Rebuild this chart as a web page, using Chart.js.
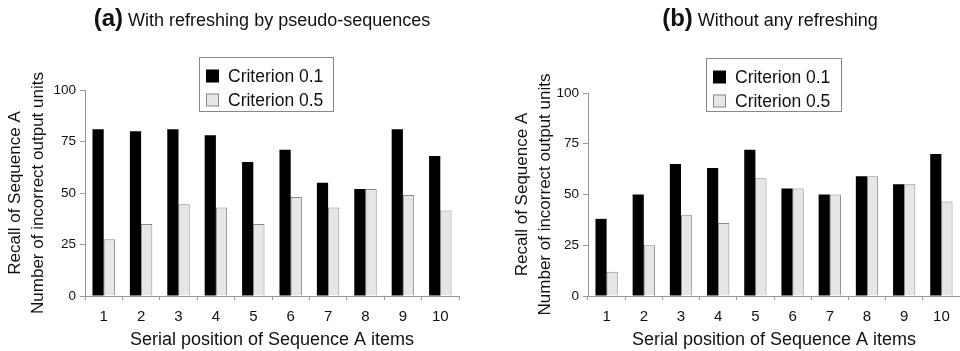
<!DOCTYPE html>
<html>
<head>
<meta charset="utf-8">
<script src="https://cdn.jsdelivr.net/npm/chart.js@4.4.1/dist/chart.umd.min.js"></script>
<style>
  html, body { margin: 0; padding: 0; background: #fff; }
  #wrap { display: flex; width: 960px; height: 351px; }
  .panel { width: 480px; height: 351px; }
</style>
</head>
<body>
<div id="wrap">
  <div class="panel"><canvas id="chartA" width="480" height="351"></canvas></div>
  <div class="panel"><canvas id="chartB" width="480" height="351"></canvas></div>
</div>
<script>
const positions = ['1', '2', '3', '4', '5', '6', '7', '8', '9', '10'];
const seriesNames = ['Criterion 0.1', 'Criterion 0.5'];

// (a) with refreshing by pseudo-sequences
const refreshCrit01 = [81, 80, 81, 78, 65, 71, 55, 52, 81, 68];
const refreshCrit05 = [27.5, 35, 44.5, 43, 35, 48, 43, 52, 49, 41.5];

// (b) without any refreshing
const noRefreshCrit01 = [38, 50, 65, 63, 72, 53, 50, 59, 55, 70];
const noRefreshCrit05 = [12, 25, 40, 36, 58, 53, 50, 59, 55, 46.5];

const yTicks = [0, 25, 50, 75, 100];

const FONT = "'Liberation Sans', Arial, sans-serif";
const AXIS_GREY = '#999';

// panel title: bold "(a)" followed by plain text
const panelTitle = {
  id: 'panelTitle',
  afterDraw(chart, args, opts) {
    const ctx = chart.ctx;
    ctx.save();
    ctx.fillStyle = '#111';
    ctx.textBaseline = 'alphabetic';
    ctx.font = 'bold 24px ' + FONT;
    const w1 = ctx.measureText(opts.tag).width;
    ctx.font = '18px ' + FONT;
    const w2 = ctx.measureText(' ' + opts.text).width;
    let x = opts.cx - (w1 + w2) / 2;
    ctx.textAlign = 'left';
    ctx.font = 'bold 24px ' + FONT;
    ctx.fillText(opts.tag, x, opts.y);
    ctx.font = '18px ' + FONT;
    ctx.fillText(' ' + opts.text, x + w1, opts.y);
    ctx.restore();
  }
};

// boxed legend floating inside the plot
const boxLegend = {
  id: 'boxLegend',
  afterDraw(chart, args, opts) {
    const ctx = chart.ctx;
    const {x, y, w, h} = opts;
    ctx.save();
    ctx.fillStyle = '#fff';
    ctx.fillRect(x, y, w, h);
    ctx.strokeStyle = '#888';
    ctx.lineWidth = 1;
    ctx.strokeRect(x + 0.5, y + 0.5, w, h);
    ctx.font = '17.5px ' + FONT;
    ctx.textBaseline = 'middle';
    ctx.textAlign = 'left';
    chart.data.datasets.forEach((ds, i) => {
      const cy = y + 19 + i * 24;
      ctx.fillStyle = ds.backgroundColor;
      ctx.fillRect(x + 7, cy - 6.5, 13, 13);
      if (ds.borderWidth) {
        ctx.strokeStyle = ds.borderColor;
        ctx.strokeRect(x + 7.5, cy - 6, 12, 12);
      }
      ctx.fillStyle = '#111';
      ctx.fillText(ds.label, x + 29, cy + 1);
    });
    ctx.restore();
  }
};

function makeChart(id, black, grey, cfg) {
  return new Chart(document.getElementById(id), {
    type: 'bar',
    data: {
      labels: positions,
      datasets: [
        { label: seriesNames[0], data: black, backgroundColor: '#000', borderWidth: 0 },
        { label: seriesNames[1], data: grey, backgroundColor: '#e6e6e6', borderColor: '#8a8a8a', borderWidth: 1 }
      ]
    },
    options: {
      responsive: false,
      animation: false,
      layout: { padding: { top: cfg.top, right: cfg.right, left: 0, bottom: 0 } },
      datasets: { bar: { categoryPercentage: 0.6, barPercentage: 1.0 } },
      scales: {
        x: {
          afterFit: s => { s.height = 55; },
          grid: { drawOnChartArea: false, drawTicks: true, tickLength: 4, color: AXIS_GREY },
          border: { color: AXIS_GREY },
          ticks: { color: '#111', padding: 8, font: { family: FONT, size: 15 } },
          title: {
            display: true, text: 'Serial position of Sequence A items', color: '#111',
            font: { family: FONT, size: 18 }, padding: { top: 0, bottom: 0 }
          }
        },
        y: {
          min: 0, max: 100,
          afterFit: s => { s.width = cfg.yWidth; },
          afterBuildTicks: s => { s.ticks = yTicks.map(v => ({ value: v })); },
          grid: { drawOnChartArea: false, drawTicks: true, tickLength: 5, color: AXIS_GREY },
          border: { color: AXIS_GREY },
          ticks: { color: '#111', padding: 4, font: { family: FONT, size: 13.5 } },
          title: {
            display: true,
            text: ['Recall of Sequence A', 'Number of incorrect output units'],
            color: '#111',
            font: { family: FONT, size: 17, lineHeight: 1.35 },
            padding: { top: cfg.titlePad, bottom: 0 }
          }
        }
      },
      plugins: {
        legend: { display: false },
        tooltip: { enabled: false },
        panelTitle: { tag: cfg.tag, text: cfg.title, cx: cfg.titleX, y: 26 },
        boxLegend: cfg.legend
      }
    },
    plugins: [panelTitle, boxLegend]
  });
}

makeChart('chartA', refreshCrit01, refreshCrit05, {
  top: 90, right: 21, yWidth: 85, titlePad: 4,
  tag: '(a)', title: 'With refreshing by pseudo-sequences', titleX: 262,
  legend: { x: 199, y: 57, w: 134, h: 54 }
});

makeChart('chartB', noRefreshCrit01, noRefreshCrit05, {
  top: 93, right: 0, yWidth: 108, titlePad: 31,
  tag: '(b)', title: 'Without any refreshing', titleX: 290,
  legend: { x: 226, y: 58, w: 135, h: 53 }
});
</script>
</body>
</html>
